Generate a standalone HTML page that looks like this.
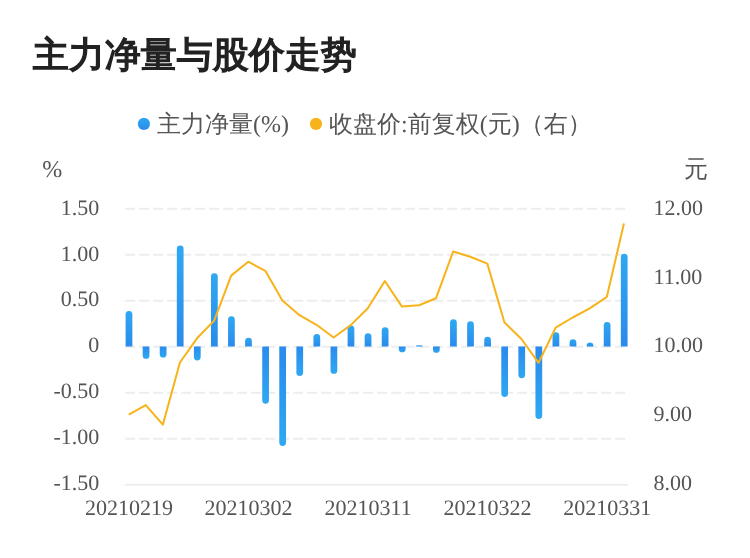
<!DOCTYPE html>
<html lang="zh-CN">
<head>
<meta charset="utf-8">
<title>主力净量与股价走势</title>
<style>
html,body{margin:0;padding:0;background:#fff;}
body{width:750px;height:558px;overflow:hidden;position:relative;font-family:"Liberation Serif","WenQuanYi Zen Hei",serif;}
svg{position:absolute;left:0;top:0;display:block;}
text{text-rendering:geometricPrecision;}
.title{font-family:"Liberation Serif","WenQuanYi Zen Hei",serif;font-weight:400;font-size:36px;fill:#222;stroke:#222;stroke-width:1.5px;stroke-linejoin:miter;}
.leg{font-family:"Liberation Serif","WenQuanYi Zen Hei",serif;font-size:24px;fill:#555;}
.ax{font-family:"Liberation Serif","WenQuanYi Zen Hei",serif;font-size:22px;fill:#555;}
.unit{font-family:"Liberation Serif","WenQuanYi Zen Hei",serif;font-size:24px;fill:#555;}
</style>
</head>
<body>
<svg width="750" height="558" viewBox="0 0 750 558">
<defs>
<linearGradient id="gp" x1="0" y1="0" x2="0" y2="1"><stop offset="0" stop-color="#2fa8f1"/><stop offset="1" stop-color="#2a8bec"/></linearGradient>
<linearGradient id="gn" x1="0" y1="0" x2="0" y2="1"><stop offset="0" stop-color="#2a8bec"/><stop offset="1" stop-color="#2fa8f1"/></linearGradient>
</defs>
<rect x="0" y="0" width="750" height="558" fill="#ffffff"/>
<text class="title" x="32.75" y="67.25">主力净量与股价走势</text>
<circle cx="143.9" cy="123.9" r="6.1" fill="url(#gp)"/>
<text class="leg" x="157" y="131.7">主力净量(%)</text>
<circle cx="316" cy="123.9" r="6.1" fill="#f7b31a"/>
<text class="leg" x="329" y="131.7">收盘价:前复权(元)（右）</text>
<text class="unit" x="42.3" y="177.3">%</text>
<text class="unit" x="684" y="177.1">元</text>
<g stroke="#ededed" stroke-width="2" stroke-dasharray="10 4" fill="none">
<line x1="125.2" y1="208.75" x2="628.3" y2="208.75"/>
<line x1="125.2" y1="254.75" x2="628.3" y2="254.75"/>
<line x1="125.2" y1="300.75" x2="628.3" y2="300.75"/>
<line x1="125.2" y1="346.75" x2="628.3" y2="346.75"/>
<line x1="125.2" y1="392.75" x2="628.3" y2="392.75"/>
<line x1="125.2" y1="438.75" x2="628.3" y2="438.75"/>
</g>
<line x1="125.2" y1="484.75" x2="628.3" y2="484.75" stroke="#ededed" stroke-width="2"/>
<g class="ax" text-anchor="end">
<text x="99.3" y="214.70">1.50</text>
<text x="99.3" y="260.56">1.00</text>
<text x="99.3" y="306.42">0.50</text>
<text x="99.3" y="352.28">0</text>
<text x="99.3" y="398.14">-0.50</text>
<text x="99.3" y="444.00">-1.00</text>
<text x="99.3" y="489.86">-1.50</text>
</g>
<g class="ax" text-anchor="start">
<text x="653.6" y="214.65">12.00</text>
<text x="653.6" y="283.53">11.00</text>
<text x="653.6" y="352.41">10.00</text>
<text x="653.6" y="421.29">9.00</text>
<text x="653.6" y="490.17">8.00</text>
</g>
<g class="ax" text-anchor="middle">
<text x="128.97" y="515.3">20210219</text>
<text x="248.51" y="515.3">20210302</text>
<text x="368.05" y="515.3">20210311</text>
<text x="487.59" y="515.3">20210322</text>
<text x="607.13" y="515.3">20210331</text>
</g>
<g>
<path d="M125.60 346.60V314.27A3.38 3.38 0 0 1 128.97 310.90H128.97A3.38 3.38 0 0 1 132.35 314.27V346.60Z" fill="url(#gp)"/>
<path d="M142.68 346.60V355.43A3.38 3.38 0 0 0 146.05 358.80H146.05A3.38 3.38 0 0 0 149.43 355.43V346.60Z" fill="url(#gn)"/>
<path d="M159.75 346.60V354.23A3.38 3.38 0 0 0 163.13 357.60H163.13A3.38 3.38 0 0 0 166.50 354.23V346.60Z" fill="url(#gn)"/>
<path d="M176.83 346.60V248.88A3.38 3.38 0 0 1 180.21 245.50H180.21A3.38 3.38 0 0 1 183.58 248.88V346.60Z" fill="url(#gp)"/>
<path d="M193.91 346.60V357.12A3.38 3.38 0 0 0 197.28 360.50H197.28A3.38 3.38 0 0 0 200.66 357.12V346.60Z" fill="url(#gn)"/>
<path d="M210.99 346.60V276.57A3.38 3.38 0 0 1 214.36 273.20H214.36A3.38 3.38 0 0 1 217.74 276.57V346.60Z" fill="url(#gp)"/>
<path d="M228.06 346.60V319.57A3.38 3.38 0 0 1 231.44 316.20H231.44A3.38 3.38 0 0 1 234.81 319.57V346.60Z" fill="url(#gp)"/>
<path d="M245.14 346.60V341.07A3.38 3.38 0 0 1 248.51 337.70H248.51A3.38 3.38 0 0 1 251.89 341.07V346.60Z" fill="url(#gp)"/>
<path d="M262.22 346.60V400.32A3.38 3.38 0 0 0 265.59 403.70H265.59A3.38 3.38 0 0 0 268.97 400.32V346.60Z" fill="url(#gn)"/>
<path d="M279.29 346.60V442.62A3.38 3.38 0 0 0 282.67 446.00H282.67A3.38 3.38 0 0 0 286.04 442.62V346.60Z" fill="url(#gn)"/>
<path d="M296.37 346.60V372.62A3.38 3.38 0 0 0 299.75 376.00H299.75A3.38 3.38 0 0 0 303.12 372.62V346.60Z" fill="url(#gn)"/>
<path d="M313.45 346.60V337.48A3.38 3.38 0 0 1 316.82 334.10H316.82A3.38 3.38 0 0 1 320.20 337.48V346.60Z" fill="url(#gp)"/>
<path d="M330.52 346.60V370.43A3.38 3.38 0 0 0 333.90 373.80H333.90A3.38 3.38 0 0 0 337.27 370.43V346.60Z" fill="url(#gn)"/>
<path d="M347.60 346.60V328.77A3.38 3.38 0 0 1 350.98 325.40H350.98A3.38 3.38 0 0 1 354.35 328.77V346.60Z" fill="url(#gp)"/>
<path d="M364.68 346.60V336.57A3.38 3.38 0 0 1 368.05 333.20H368.05A3.38 3.38 0 0 1 371.43 336.57V346.60Z" fill="url(#gp)"/>
<path d="M381.75 346.60V330.57A3.38 3.38 0 0 1 385.13 327.20H385.13A3.38 3.38 0 0 1 388.50 330.57V346.60Z" fill="url(#gp)"/>
<path d="M398.83 346.60V348.93A3.38 3.38 0 0 0 402.21 352.30H402.21A3.38 3.38 0 0 0 405.58 348.93V346.60Z" fill="url(#gn)"/>
<path d="M415.91 346.60V346.60A1.40 1.40 0 0 1 417.31 345.20H421.26A1.40 1.40 0 0 1 422.66 346.60V346.60Z" fill="url(#gp)"/>
<path d="M432.99 346.60V349.43A3.38 3.38 0 0 0 436.36 352.80H436.36A3.38 3.38 0 0 0 439.74 349.43V346.60Z" fill="url(#gn)"/>
<path d="M450.06 346.60V322.57A3.38 3.38 0 0 1 453.44 319.20H453.44A3.38 3.38 0 0 1 456.81 322.57V346.60Z" fill="url(#gp)"/>
<path d="M467.14 346.60V324.68A3.38 3.38 0 0 1 470.51 321.30H470.51A3.38 3.38 0 0 1 473.89 324.68V346.60Z" fill="url(#gp)"/>
<path d="M484.22 346.60V340.18A3.38 3.38 0 0 1 487.59 336.80H487.59A3.38 3.38 0 0 1 490.97 340.18V346.60Z" fill="url(#gp)"/>
<path d="M501.29 346.60V393.52A3.38 3.38 0 0 0 504.67 396.90H504.67A3.38 3.38 0 0 0 508.04 393.52V346.60Z" fill="url(#gn)"/>
<path d="M518.37 346.60V374.82A3.38 3.38 0 0 0 521.75 378.20H521.75A3.38 3.38 0 0 0 525.12 374.82V346.60Z" fill="url(#gn)"/>
<path d="M535.45 346.60V415.62A3.38 3.38 0 0 0 538.82 419.00H538.82A3.38 3.38 0 0 0 542.20 415.62V346.60Z" fill="url(#gn)"/>
<path d="M552.53 346.60V335.68A3.38 3.38 0 0 1 555.90 332.30H555.90A3.38 3.38 0 0 1 559.28 335.68V346.60Z" fill="url(#gp)"/>
<path d="M569.60 346.60V342.68A3.38 3.38 0 0 1 572.98 339.30H572.98A3.38 3.38 0 0 1 576.35 342.68V346.60Z" fill="url(#gp)"/>
<path d="M586.68 346.60V345.88A3.38 3.38 0 0 1 590.05 342.50H590.05A3.38 3.38 0 0 1 593.43 345.88V346.60Z" fill="url(#gp)"/>
<path d="M603.76 346.60V325.27A3.38 3.38 0 0 1 607.13 321.90H607.13A3.38 3.38 0 0 1 610.51 325.27V346.60Z" fill="url(#gp)"/>
<path d="M620.83 346.60V257.07A3.38 3.38 0 0 1 624.21 253.70H624.21A3.38 3.38 0 0 1 627.58 257.07V346.60Z" fill="url(#gp)"/>
</g>
<polyline points="128.70,414.70 145.78,405.05 162.85,424.70 179.93,362.50 197.01,338.30 214.08,320.80 231.16,275.60 248.24,261.70 265.32,270.80 282.39,300.60 299.47,315.20 316.55,324.80 333.62,337.50 350.70,325.10 367.78,308.20 384.86,281.00 401.93,306.60 419.01,305.20 436.09,298.20 453.16,251.50 470.24,256.80 487.32,263.60 504.39,322.30 521.47,339.00 538.55,362.80 555.62,327.70 572.70,317.50 589.78,308.40 606.86,296.80 623.93,223.40" fill="none" stroke="#f7b31a" stroke-width="2" stroke-linejoin="round" stroke-linecap="butt"/>
</svg>
</body>
</html>
